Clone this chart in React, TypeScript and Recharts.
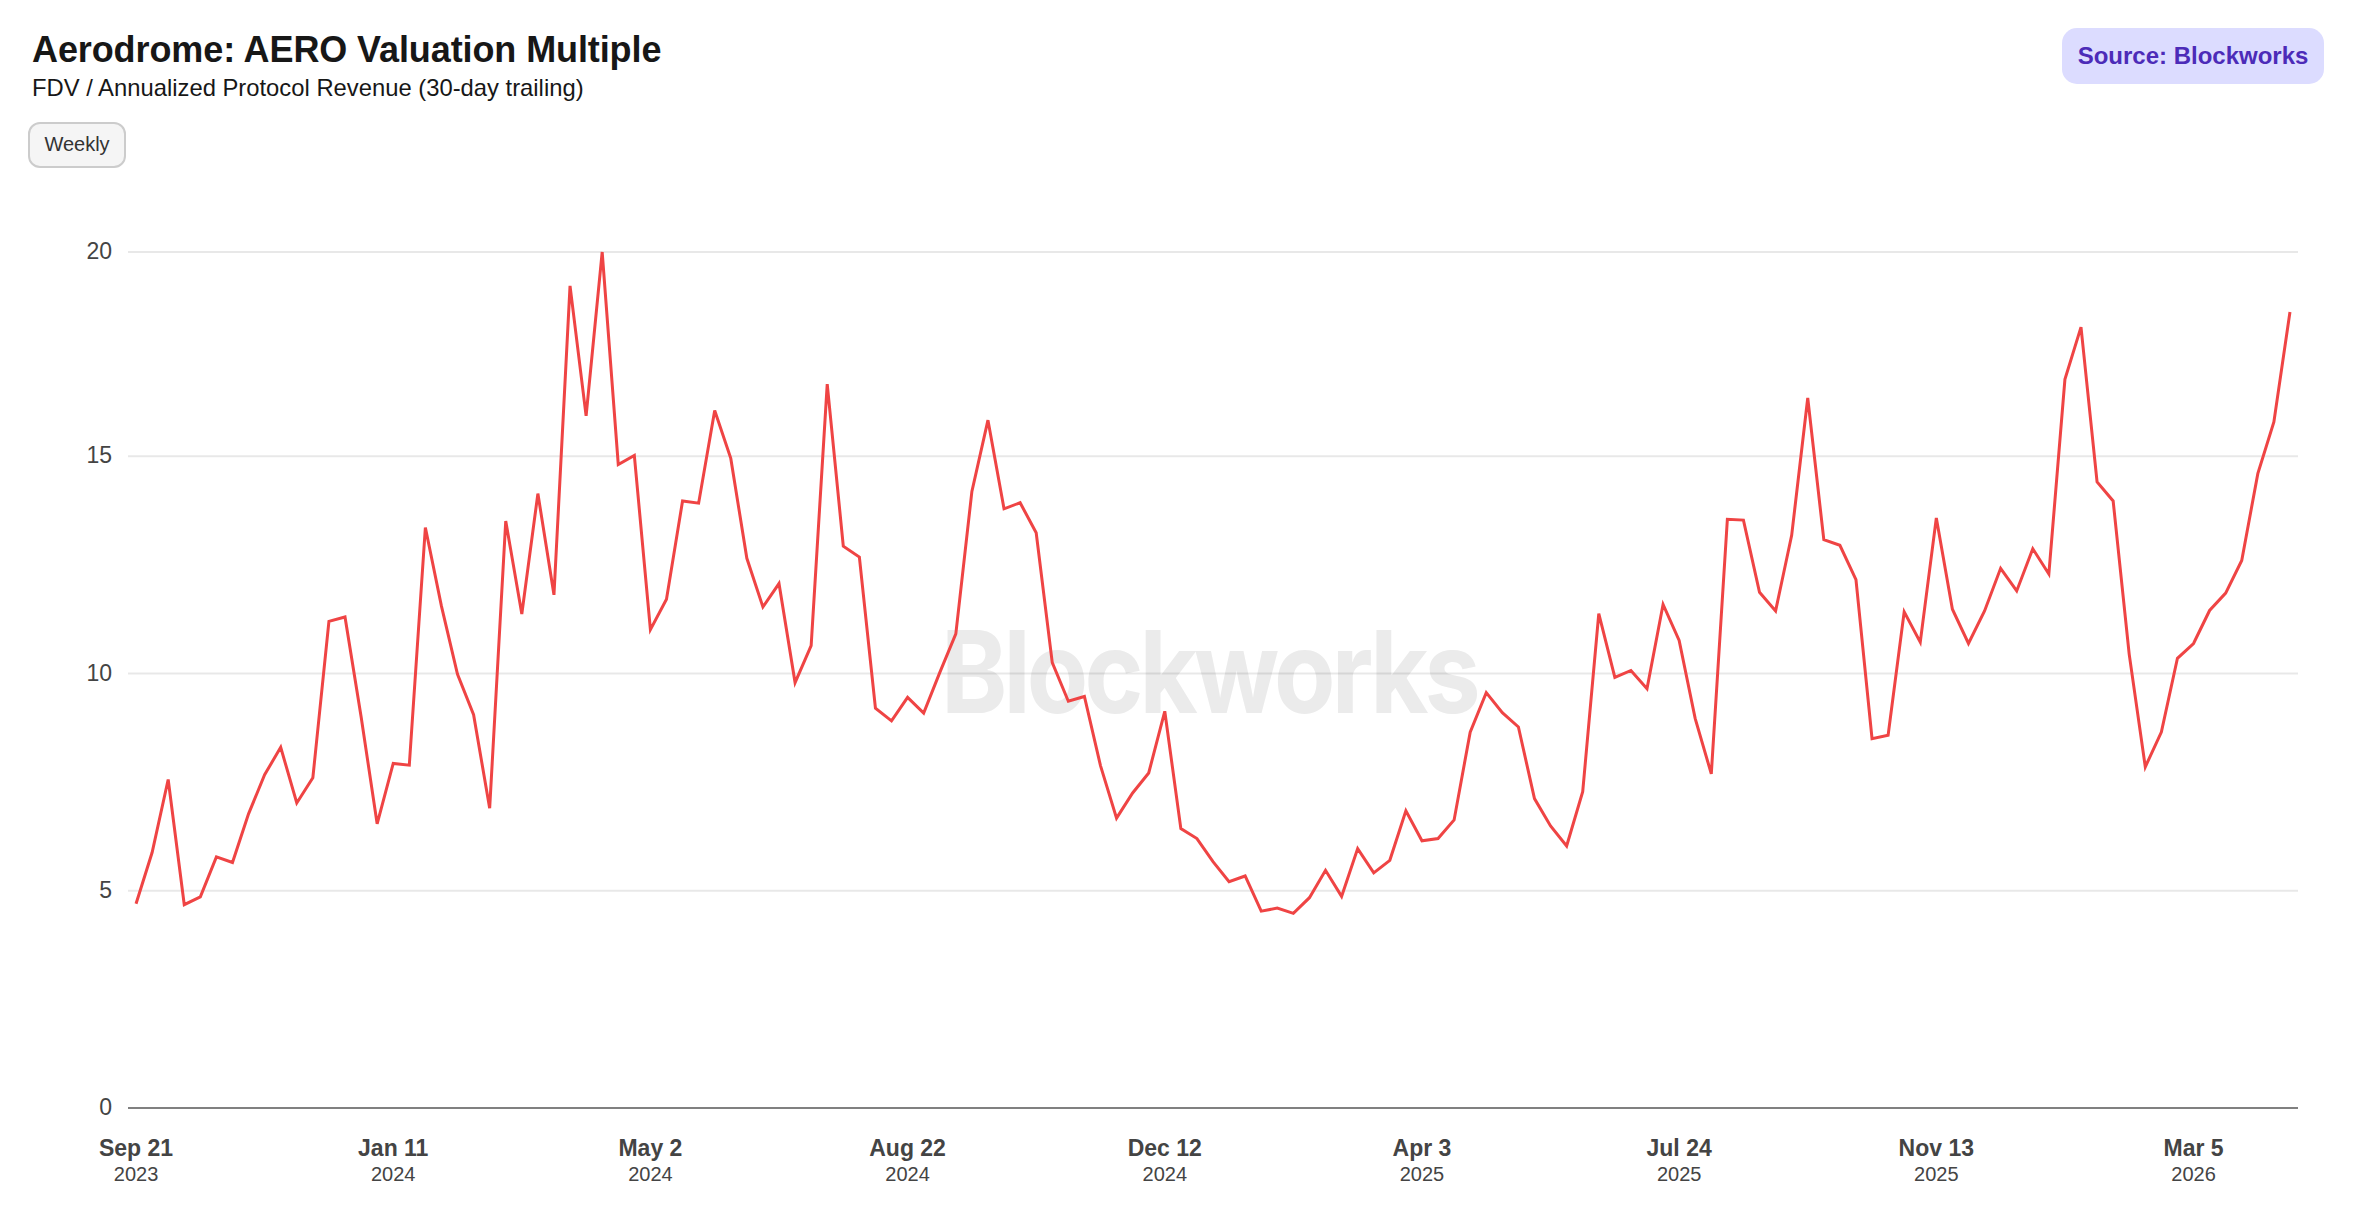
import { LineChart, Line, XAxis, YAxis, CartesianGrid } from 'recharts';

const WIDTH = 2356;
const HEIGHT = 1222;
const FONT = '"Liberation Sans", Arial, sans-serif';

// weekly readings, first one on Sep 21 2023
const firstWeek = '2023-09-21';
const multiple = [
  4.7, 5.88, 7.56, 4.68, 4.86, 5.78, 5.65, 6.77, 7.67, 8.3,
  7.02, 7.6, 11.2, 11.3, 9.01, 6.54, 7.93, 7.89, 13.36, 11.55,
  9.98, 9.05, 6.9, 13.51, 11.37, 14.14, 11.81, 18.92, 15.93, 19.7,
  14.81, 15.02, 11.01, 11.71, 13.97, 13.92, 16.05, 14.95, 12.65, 11.53,
  12.07, 9.79, 10.64, 16.66, 12.93, 12.68, 9.2, 8.91, 9.45, 9.09,
  10.02, 10.91, 14.19, 15.83, 13.79, 13.93, 13.24, 10.25, 9.36, 9.47,
  7.88, 6.67, 7.25, 7.71, 9.13, 6.43, 6.2, 5.67, 5.21, 5.34,
  4.53, 4.6, 4.48, 4.84, 5.47, 4.87, 5.97, 5.41, 5.7, 6.84,
  6.15, 6.2, 6.63, 8.65, 9.56, 9.1, 8.77, 7.12, 6.49, 6.03,
  7.28, 11.38, 9.91, 10.07, 9.65, 11.59, 10.76, 8.96, 7.69, 13.55,
  13.53, 11.87, 11.44, 13.18, 16.34, 13.08, 12.95, 12.16, 8.5, 8.58,
  11.42, 10.72, 13.58, 11.48, 10.69, 11.44, 12.42, 11.9, 12.87, 12.29,
  16.77, 17.97, 14.41, 13.97, 10.44, 7.85, 8.65, 10.35, 10.69, 11.45,
  11.85, 12.6, 14.6, 15.79, 18.32,
];

const tickDates = [
  '2023-09-21', '2024-01-11', '2024-05-02', '2024-08-22', '2024-12-12',
  '2025-04-03', '2025-07-24', '2025-11-13', '2026-03-05',
];

// the top gridline sits on the series max and just gets rounded to 20
const yTicks = [0, 5, 10, 15, 19.7];

function weekDate(i: number): string {
  const d = new Date(firstWeek + 'T00:00:00Z');
  d.setUTCDate(d.getUTCDate() + i * 7);
  return d.toISOString().slice(0, 10);
}

const data = multiple.map((value, i) => ({ date: weekDate(i), value }));

function DateTick({ x, y, payload }: any) {
  const d = new Date(payload.value + 'T00:00:00Z');
  const day = d.toLocaleDateString('en-US', { month: 'short', day: 'numeric', timeZone: 'UTC' });
  return (
    <g fontFamily={FONT} textAnchor="middle" fill="#444444">
      <text x={x} y={y + 40} fontSize={23} fontWeight={700}>{day}</text>
      <text x={x} y={y + 65} fontSize={20}>{d.getUTCFullYear()}</text>
    </g>
  );
}

export default function App() {
  return (
    <div style={{ position: 'absolute', left: 0, top: 0, width: WIDTH, height: HEIGHT, background: '#fff', overflow: 'hidden', fontFamily: FONT }}>
      <div style={{ position: 'absolute', left: 32, top: 28, fontSize: 36, lineHeight: '44px', fontWeight: 700, letterSpacing: -0.1, color: '#171717' }}>
        Aerodrome: AERO Valuation Multiple
      </div>
      <div style={{ position: 'absolute', left: 32, top: 73, fontSize: 23.8, lineHeight: '30px', color: '#171717' }}>
        FDV / Annualized Protocol Revenue (30-day trailing)
      </div>
      <div style={{ position: 'absolute', left: 28, top: 122, width: 98, height: 46, boxSizing: 'border-box', border: '2px solid #cccccc', borderRadius: 12, background: '#f5f5f5', color: '#333', fontSize: 20, paddingBottom: 2, display: 'flex', alignItems: 'center', justifyContent: 'center' }}>
        Weekly
      </div>
      <div style={{ position: 'absolute', left: 2062, top: 28, width: 262, height: 56, borderRadius: 15, background: '#dcdcff', color: '#4c2bb8', fontSize: 24, fontWeight: 700, display: 'flex', alignItems: 'center', justifyContent: 'center' }}>
        Source: Blockworks
      </div>

      {/* watermark goes under the chart, the see-through gridlines darken where they cross it */}
      <div style={{ position: 'absolute', left: 941, top: 603, fontFamily: 'Inter, sans-serif', fontSize: 114, lineHeight: '138px', fontWeight: 700, letterSpacing: -4.4, transform: 'scaleX(0.88)', transformOrigin: 'left', color: '#ebebeb', whiteSpace: 'nowrap' }}>
        Blockworks
      </div>

      <div style={{ position: 'absolute', left: 0, top: 0 }}>
        <LineChart
          width={WIDTH}
          height={HEIGHT}
          data={data}
          margin={{ top: 252, right: 58, bottom: 34, left: 68 }}
        >
          <CartesianGrid vertical={false} stroke="#000000" strokeOpacity={0.09} strokeWidth={2} />
          <XAxis
            dataKey="date"
            scale="band"
            ticks={tickDates}
            interval={0}
            height={80}
            tick={DateTick}
            tickLine={false}
            axisLine={{ stroke: '#808080', strokeWidth: 2 }}
          />
          <YAxis
            width={60}
            domain={[0, 19.7]}
            ticks={yTicks}
            tickFormatter={(v: number) => String(Math.round(v))}
            tick={{ fontSize: 23, fill: '#444444', fontFamily: FONT, dy: -1 }}
            tickLine={false}
            tickSize={0}
            tickMargin={16}
            axisLine={false}
          />
          <Line
            dataKey="value"
            type="linear"
            stroke="#ef4444"
            strokeWidth={3}
            dot={false}
            isAnimationActive={false}
          />
        </LineChart>
      </div>
    </div>
  );
}
